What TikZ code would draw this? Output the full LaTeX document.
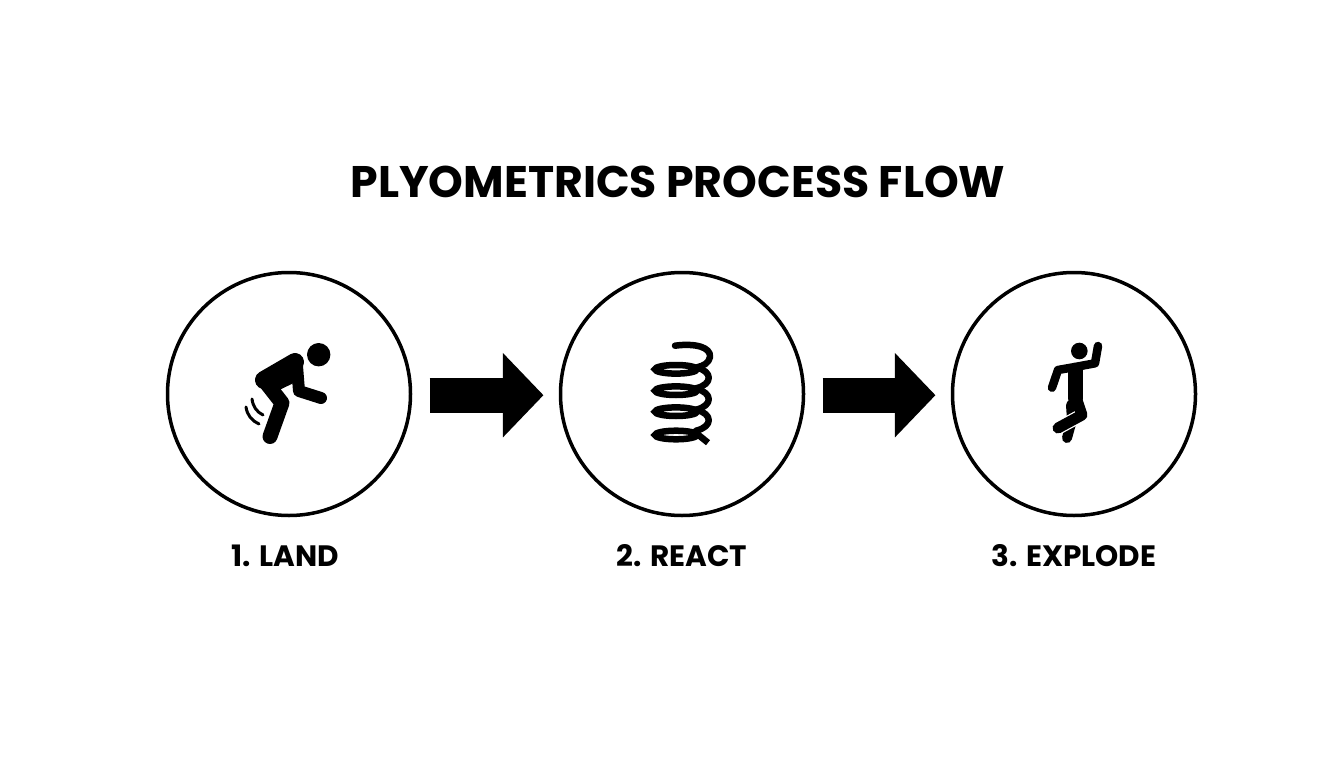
\documentclass[tikz,border=0pt]{standalone}
\usepackage{fontspec}
\setmainfont{Poppins}
\usetikzlibrary{positioning}
\usetikzlibrary{arrows.meta}
\tikzset{
	stage/.style={circle, draw, line width=3.5pt, minimum size=243pt, inner sep=0pt, outer sep=0pt},
	stagelabel/.style={font=\fontsize{29.5}{34}\selectfont\bfseries, inner sep=0pt},
	flowarrow/.style={line width=35pt, -{Triangle[length=40.6pt,width=82pt]}, shorten <=19pt, shorten >=17pt, transform canvas={yshift=-1.2pt}},
	limb/.style={line cap=round, line join=round}
}
\begin{document}
\begin{tikzpicture}[x=1pt, y=-1pt]
	 \useasboundingbox (0,0) rectangle (1344,768);
	 \node [font=\fontsize{44.2}{54}\selectfont\bfseries, inner sep=0pt] (title) at (678,182) {PLYOMETRICS PROCESS FLOW};
	 \node [stage] (c1) at (289,394) {};
	 \node [stage, right=150pt of c1] (c2) {};
	 \node [stage, right=149pt of c2] (c3) {};
	 \node [stagelabel, below=29pt of c1, xshift=-3.5pt] (lb1) {1. LAND};
	 \node [stagelabel, below=29pt of c2] (lb2) {2. REACT};
	 \node [stagelabel, below=29pt of c3] (lb3) {3. EXPLODE};
	 \draw [flowarrow] (c1) -- (c2);
	 \draw [flowarrow] (c2) -- (c3);
	 % land
	 \fill (318.7,354.7) circle (11.7);
	 \draw [limb, line width=18pt] (295,362) -- (264,380);
	 \draw [limb, line width=15pt] (264,380) -- (282,403) -- (270,436.5);
	 \fill (264,374) -- (300,360) -- (300,380) -- (275,392) -- cycle;
	 \draw [limb, line width=12pt] (297,366) -- (299,391) -- (321,398);
	 \draw [limb, line width=3pt] (252,399) .. controls (253,407) and (257,412) .. (263,415);
	 \draw [limb, line width=3pt] (246,407) .. controls (247,415) and (252,421) .. (259,424);
	 % react
	 \draw [limb, line width=6.5pt] (675,345.7) .. controls (695,343) and (711,347) .. (710,357) .. controls (709,363) and (703,366) .. (698,367);
	 \foreach \y in {369.3,390.7,411.7}{
		 \draw [line width=6.5pt] (676,\y) ellipse (21 and 4.3);
		 \draw [limb, line width=6.5pt] (696,\y-2) .. controls (713,\y+2) and (713,\y+15) .. (696,\y+19);
	 }
	 \draw [line width=6.5pt] (676,435) ellipse (21 and 4.3);
	 \draw [line width=6.5pt] (696,433) -- (708,442.7);
	 % explode
	 \fill (1079.3,351) circle (8.3);
	 \draw [limb, line width=8.5pt] (1075,367) -- (1058,370) -- (1052,387.7);
	 \draw [limb, line width=8.5pt] (1075,367) -- (1095,363.3) -- (1098,346);
	 \draw [limb, line width=10pt] (1071,405) -- (1072,420) -- (1067,438);
	 \draw [limb, line width=13.5pt, white] (1082,415) -- (1058,428);
	 \draw [limb, line width=15pt] (1075,371) -- (1075,398);
	 \draw [limb, line width=11pt] (1077,400) -- (1082,415) -- (1058,428);
\end{tikzpicture}
\end{document}
